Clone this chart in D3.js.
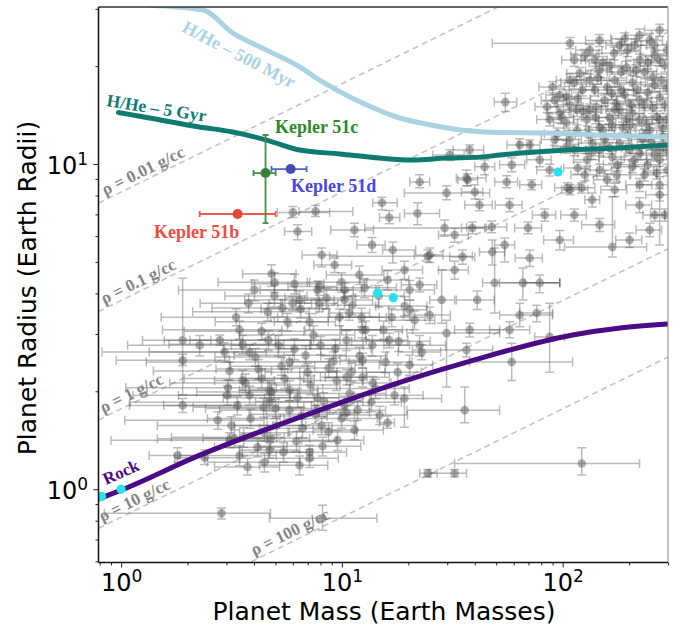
<!DOCTYPE html>
<html>
<head>
<meta charset="utf-8">
<script src="https://cdn.jsdelivr.net/npm/d3@7"></script>
<style>
  body { margin: 0; background: #fff; }
  svg { display: block; }
</style>
</head>
<body>
<svg id="chart" width="681" height="627"></svg>
<script>
// ---- Data -------------------------------------------------------------
// Iso-density reference lines (g/cc)
const densityLevels = [0.01, 0.1, 1, 10, 100];
const densityText = ["ρ = 0.01 g/cc", "ρ = 0.1 g/cc", "ρ = 1 g/cc", "ρ = 10 g/cc", "ρ = 100 g/cc"];
const EARTH_DENSITY = 5.51;

// H/He envelope models: [mass (M_earth), radius (R_earth)]
const hhe500Myr = [[1.34,30.8],[2.34,29.8],[3.2,25.3],[4.56,22.4],[6.44,19.9],[7.93,18.1],[9.77,16.7],
  [12.4,15.4],[17.7,13.95],[25.0,13.2],[35.3,12.7],[52,12.5],[87.5,12.46],[147.6,12.28],[300,12.1]];
const hhe5Gyr = [[0.973,14.4],[1.344,13.85],[2.26,13.0],[3.2,12.55],[4.56,11.85],[6.44,11.04],[9.77,10.74],
  [14.8,10.43],[20.9,10.29],[29.8,10.43],[42.2,10.5],[52,10.66],[104,11.04],[176,11.2],[300,11.44]];
const rockCurve = [[0.78,0.93],[1.0,0.993],[2.26,1.27],[4.24,1.5],[9.75,1.84],[18.3,2.13],[39.2,2.49],
  [111,2.98],[182,3.13],[300,3.22]];

// Kepler-51 planets: [value, low, high]
const keplerNames = ["Kepler 51b", "Kepler 51c", "Kepler 51d"];
const keplerMass = [[3.37,2.27,5.01],[4.51,3.98,5.01],[5.86,4.8,6.92]];
const keplerRadius = [[7.02,6.92,7.12],[9.38,6.58,12.28],[9.65,9.55,9.75]];

// Solar system reference planets: [mass, radius]
const solarSystem = [[0.815,0.95],[1.0,1.0],[14.5,4.01],[17.1,3.88],[95.2,9.45]];

// Known exoplanets with asymmetric bounds: [m, mLo, mHi, r, rLo, rHi]
const exoBounds = [
  [108,48,185,23.5,22.6,24.5],[55,49,62,15.5,14.5,16.5],[6.0,5.1,8.8,7.1,6.85,7.4],[7.6,6.4,11.2,7.15,6.9,7.45],
  [6.3,5.5,7.3,6.2,5.85,6.5],[8.1,6.6,9.5,5.25,4.82,5.52],[4.8,3.55,6.2,4.6,4.2,4.9],[7.9,5.7,9.5,4.2,4.05,4.35],
  [1.9,1.25,2.55,2.87,1.95,4.45],[2.8,1.57,9.8,2.87,2.77,2.98],[1.9,0.95,3.1,2.49,2.4,2.6],[1.9,1.09,3.4,1.81,1.72,1.9],
  [22.5,20.3,25,8.8,8.45,9.26],[36.7,33,45,9.05,8.57,9.59],[29.8,19.2,46.7,8.15,7.76,8.57],[40,34.8,43.5,8.2,7.8,8.63],
  [15.2,13.8,17.8,7.6,7.22,7.9],[22,19.2,27.7,7.05,6.5,7.6],[16.4,14.8,18.3,6.85,6.55,7.2],[29.2,12.7,45,6.36,6.0,6.73],
  [39,34.8,44.3,6.36,6.1,6.63],[17,15.3,21.6,5.44,4.96,5.76],[24.5,8.8,39,5.2,5.0,5.44],[48,42,54.6,5.36,4.89,5.84],
  [35.2,30.8,40,5.18,4.92,5.44],[22.5,18.6,26.9,4.25,4.04,4.46],[28.3,25,32.4,3.82,3.24,4.72],[72.4,63.9,80.3,8.63,8.33,8.94],
  [108,99,130,8.33,8.04,8.63],[136,126,147,7.76,7.38,8.15],[168,102,240,5.56,5.18,7.93],[275,217,300,8.63,5.64,9.13],
  [69.7,60.6,80.3,6.36,6.1,6.63],[47.7,36.7,55.8,6.4,6.15,6.68],[58.8,51.8,67.3,9.94,9.46,10.45],[44.3,40,49.2,9.8,9.26,10.3],
  [37.1,33.5,41.2,8.94,8.57,9.33],[55.8,49.2,62.5,8.8,8.45,9.2],[105,92,119,8.45,8.15,8.75],[122,110,140,8.45,8.15,8.75],
  [176,155,201,9.26,8.8,9.72],[54.6,49.2,60.6,5.64,5.0,5.92],[66,51.8,97,4.31,3.82,4.79],[78.7,67.3,97,4.31,4.02,4.56],
  [63.9,51.8,90,3.43,3.16,3.73],[76.3,63.9,90,3.48,3.27,3.68],[29.8,19.7,51.8,3.02,2.06,3.31],[37.9,32.4,51.8,3.09,2.94,3.24],
  [36.7,20.9,48.2,2.68,2.55,2.81],[36,19.7,51.8,1.75,1.6,2.06],[19.2,13.35,28.3,1.9,1.55,2.06],[16.1,14.8,17.3,1.6,1.54,1.68],
  [10.5,7.9,13.35,1.72,1.63,1.81],[32.4,25,36.7,1.12,1.09,1.15],[122,32.4,223,1.2,1.105,1.34],[58.8,37.9,111,2.46,2.16,2.81],
  [87.3,74.7,102,2.94,2.29,3.73],[57.5,46.7,70.9,3.09,2.92,3.27],[2.85,0.84,4.75,0.843,0.81,0.875],[8.17,4.7,14.4,0.814,0.748,0.893],
  [24.5,22.5,27,1.12,1.09,1.15],[1.8,1.34,2.39,1.27,1.21,1.34],[2.39,1.75,3.44,1.25,1.19,1.32],[3.74,2.65,5.22,1.17,1.105,1.245],
  [7.14,4.7,10.5,1.3,1.23,1.365],[4.7,3.44,6.43,1.32,1.245,1.395],[3.55,2.65,4.95,2.16,2.015,2.32],[4.7,3.44,6.43,2.015,1.88,2.16],
  [4.46,3.44,5.79,1.49,1.405,1.57],[49.2,43.4,97,4.31,3.48,5.52],[10.8,8.8,13.35,3.48,3.31,3.68],
  [3.82,0.82,6.0,2.64,2.5,2.78],[4.7,1.1,7.5,1.85,1.74,1.96],[3.1,0.9,4.6,1.415,1.34,1.49],[5.79,1.3,8.8,2.46,2.34,2.58]
];

// Known exoplanets with symmetric errors: [m, mErr, r, rErr]
const exoSymmetric = [
  // sub-Neptunes and super-Earths
  [3.32,1.8,3.38,0.2],[3.78,1.5,3.73,0.25],[4.33,2.4,3.06,0.18],[4.95,2.0,3.93,0.3],[5.67,3.0,3.27,0.2],[6.5,2.2,3.58,0.22],[7.44,4.0,2.98,0.2],[8.52,3.0,3.87,0.28],
  [9.76,5.0,3.38,0.2],[11.17,3.5,3.68,0.24],[12.8,6.0,3.09,0.2],[14.67,4.5,3.93,0.3],[16.8,7.0,3.38,0.22],[19.24,5.0,3.66,0.25],[3.55,1.9,2.79,0.18],[4.06,1.4,2.55,0.16],
  [4.65,2.6,2.87,0.2],[5.33,2.2,2.39,0.15],[6.1,3.2,2.7,0.2],[6.99,2.5,2.29,0.15],[8.01,4.5,2.77,0.18],[9.17,3.2,2.47,0.17],[10.5,5.5,2.87,0.2],[12.03,4.0,2.57,0.16],
  [13.74,6.5,2.77,0.2],[15.77,5.0,2.46,0.18],[18.08,7.0,2.85,0.2],[3.1,1.7,2.31,0.15],[3.66,2.0,2.12,0.14],[4.19,1.5,2.34,0.16],[4.8,2.6,1.99,0.13],[5.5,2.0,2.19,0.15],
  [6.3,3.4,1.91,0.13],[7.21,2.6,2.09,0.14],[8.26,4.2,1.86,0.12],[9.46,3.0,2.16,0.15],[10.83,5.0,1.97,0.13],[12.41,4.0,2.21,0.15],[14.2,6.0,2.04,0.14],[3.36,1.8,1.81,0.12],
  [3.86,1.4,1.65,0.11],[4.42,2.3,1.785,0.12],[5.06,1.8,1.57,0.1],[5.79,3.0,1.75,0.12],[6.63,2.4,1.54,0.1],[7.6,3.8,1.7,0.11],[8.7,3.0,1.5,0.1],[9.97,4.5,1.65,0.11],
  [3.59,1.9,1.445,0.1],[4.15,1.5,1.345,0.09],[4.75,2.4,1.435,0.1],[5.44,1.9,1.3,0.09],[6.23,3.2,1.405,0.1],[7.14,2.5,1.245,0.08],[8.18,4.0,1.355,0.09],[2.94,1.6,2.64,0.18],
  [3.03,1.9,1.945,0.13],[3.16,1.7,1.57,0.1],[4.61,2.5,3.51,0.22],[6.1,2.2,4.28,0.3],[7.76,3.5,4.1,0.26],[9.97,3.0,4.33,0.3],[12.67,5.0,4.16,0.28],[16.1,4.0,4.4,0.3],
  [20.27,6.0,4.1,0.28],[21.35,5.0,3.31,0.22],[22.5,7.0,2.77,0.2],[20.27,5.5,2.41,0.17],[11.77,4.0,1.75,0.12],[13.6,5.0,1.85,0.12],[5.16,2.0,2.77,0.2],[6.85,3.6,2.58,0.18],
  [8.7,2.8,2.36,0.16],[11.05,4.6,2.29,0.15],[4.33,2.4,2.19,0.15],[5.79,2.0,2.015,0.14],[7.76,3.3,1.91,0.13],[10.28,3.0,1.81,0.12],[5.01,2.6,1.77,0.12],[6.56,2.0,1.68,0.11],
  [3.44,1.9,3.09,0.2],[4.02,2.2,4.1,0.3],[5.38,2.8,3.61,0.22],[7.14,2.2,3.27,0.2],[9.36,4.2,2.71,0.18],[12.28,3.6,3.38,0.22],[15.45,5.5,3.09,0.2],[17.9,5.0,2.29,0.15],
  [3.82,2.0,1.945,0.13],[8.09,3.5,1.57,0.1],[9.56,3.0,1.415,0.1],[6.43,2.2,1.185,0.08],[4.46,2.0,1.21,0.08],[3.44,1.6,1.27,0.09],[11.41,4.0,1.52,0.1],[14.82,5.0,1.69,0.11],
  [17.33,6.0,1.945,0.13],[4.95,2.2,4.33,0.3],[6.43,2.8,3.82,0.25],[10.28,3.5,3.82,0.25],
  [3.05,2.0,2.05,0.12],[2.74,1.7,1.63,0.1],[3.26,1.8,1.43,0.09],[2.27,1.2,2.77,0.2],
  [11.4,2.5,6.27,0.3],[9.27,1.8,4.89,0.25],[12.0,3.5,4.56,0.3],[10.3,2.0,4.1,0.2],[13.7,2.0,5.64,0.3],[19.2,4.0,4.72,0.3],[32.4,5,4.72,0.3],[41,8,3.82,0.25],
  [20.3,4,3.56,0.25],[25,6,3.43,0.2],[32.4,5,6.05,0.3],[57.5,8,7.48,0.35],[82.9,10,6.97,0.3],[97,15,5.84,0.4],[70.9,10,5.14,0.3],[113,15,6.97,0.3],
  [223,30,7.48,0.4],[261,30,6.97,0.3],[147,25,6.5,0.3],[42,6,7.48,0.3],[30.8,5,10.66,0.4],[37.9,6,11.05,0.4],[70.9,8,11.45,0.4],
  [5.98,1.3,3.73,0.18],[7.9,1.7,3.73,0.22],[12.4,2.6,3.09,0.17],[16.4,3.5,2.87,0.15],[23,5,2.64,0.14],[12.4,2.6,2.49,0.13],[10.5,2.5,2.21,0.12],[13.8,2.9,2.12,0.1],[25,3.7,5.25,0.27],
  // gas giants
  [132.6,18,22.4,0.9],[171,25,21.9,1.0],[248,35,24.0,1.2],[275,40,25.8,1.1],[119.4,15,19.0,0.8],[147,20,19.4,0.9],[195,30,19.8,0.9],[90,12,17.25,0.7],
  [104,14,16.1,0.8],[123,16,16.9,0.7],[159,22,17.25,0.8],[207,30,17.8,0.9],[256,40,18.5,0.8],[85,10,15.0,0.6],[97,12,14.4,0.6],[116,15,14.7,0.7],
  [142,18,15.0,0.6],[175,25,15.4,0.7],[223,30,15.7,0.8],[275,35,16.0,0.7],[87.3,11,13.7,0.6],[104,13,13.4,0.5],[129,17,13.7,0.6],[163,22,13.9,0.6],
  [207,28,14.3,0.7],[267,35,13.95,0.6],[94.6,12,12.4,0.5],[116,15,12.7,0.5],[147,20,12.95,0.6],[187,25,12.95,0.5],[240,32,13.3,0.6],[295,40,13.7,0.6],
  [104,14,11.3,0.5],[136,18,11.6,0.5],[181,24,11.6,0.5],[230,30,11.9,0.5],[284,38,12.1,0.5],[129,17,10.3,0.45],[168,22,10.5,0.45],[223,30,10.8,0.5],
  [275,35,10.3,0.45],[147,20,9.59,0.4],[207,28,9.8,0.4],[267,35,9.4,0.4],[78.7,10,10.3,0.5],[63.9,8,11.45,0.5],
  [191,25,16.3,0.7],[235,32,15.2,0.6],[261,35,17.5,0.8],[201,27,13.2,0.5],[172,23,18.1,0.8],[223,30,20.9,0.9],[248,33,12.7,0.5],[155,21,15.7,0.6],
  [290,40,20.1,0.9],[181,24,14.7,0.6],[140,19,16.9,0.7],[275,36,11.05,0.45],[212,28,23.2,1.0],[261,35,21.6,0.9],[113,15,17.8,0.8],[147,20,11.05,0.45],
  [126,17,9.26,0.4],[172,23,8.33,0.4],[235,32,9.26,0.4],
  [113,14,20.9,0.9],[132.6,17,18.1,0.8],[163,22,20.1,0.9],[184,25,16.9,0.7],[215,28,19.4,0.8],[243,33,16.6,0.7],[280,38,18.1,0.8],[107.6,14,15.2,0.6],
  [131,17,12.3,0.5],[155,21,11.9,0.5],[197,26,12.3,0.5],[252,34,11.7,0.5],[290,40,15.2,0.6],[167,22,13.2,0.5],[141,19,13.9,0.6],[113,15,11.05,0.45],
  [223,30,13.7,0.6],[295,40,11.05,0.45],[177,24,9.94,0.4],[243,32,9.94,0.4],[97,13,16.3,0.7],[92,12,11.9,0.5],[201,27,11.05,0.45],[275,37,13.7,0.6],
  [140,19,20.9,0.9],[223,30,24.9,1.1],[181,24,23.2,1.0],
  [125.8,17,21.6,0.9],[152,20,20.5,0.9],[197,27,22.4,1.0],[243,33,20.5,0.9],[107.6,14,18.1,0.8],[144,19,18.4,0.8],[184,25,19.2,0.8],[235,32,19.2,0.9],
  [295,40,17.1,0.7],[92,12,15.7,0.7],[117,16,15.9,0.7],[167,22,16.5,0.7],[205,28,15.2,0.6],[256,34,14.9,0.6],[99,13,13.9,0.6],[124,17,14.5,0.6],
  [152,20,12.7,0.5],[195,26,13.8,0.6],[235,32,12.3,0.5],[285,38,12.9,0.5],[107.6,14,11.9,0.5],[135,18,10.8,0.45],[163,22,11.2,0.45],[212,28,10.3,0.45],
  [261,35,10.66,0.45],[298,40,9.59,0.4],[117,16,9.72,0.4],[159,21,8.94,0.4],[223,30,8.63,0.4],[275,37,8.04,0.35],[87.3,11,9.59,0.4],[132.6,18,14.7,0.6],
  [172,23,14.7,0.6],[218,29,16.9,0.7],[275,37,20.9,0.9],[147,20,24.0,1.0],[191,26,24.3,1.0],[261,35,23.2,1.0],[297,40,22.4,0.9],
  [248,33,6.27,0.3],[290,40,6.97,0.3],[201,27,5.84,0.3]
];

// Axis ticks
const xMajor = [1, 10, 100];
const xMinor = [0.8, 0.9, 2, 3, 4, 5, 6, 7, 8, 9, 20, 30, 40, 50, 60, 70, 80, 90, 200, 300];
const yMajor = [1, 10];
const yMinor = [0.6, 0.7, 0.8, 0.9, 2, 3, 4, 5, 6, 7, 8, 9, 20, 30];

// ---- Layout -------------------------------------------------------------
const plot = { left: 98.5, right: 668, top: 7, bottom: 562.5 };
const x = d3.scaleLog().domain([0.79, 300]).range([plot.left, plot.right]);
const y = d3.scaleLog().domain([0.595, 30.4]).range([plot.bottom, plot.top]);

const svg = d3.select("#chart");
svg.append("rect").attr("width", 681).attr("height", 627).attr("fill", "#fff");

svg.append("defs").append("clipPath").attr("id", "plotClip")
  .append("rect")
  .attr("x", plot.left).attr("y", plot.top)
  .attr("width", plot.right - plot.left).attr("height", plot.bottom - plot.top);

const body = svg.append("g").attr("clip-path", "url(#plotClip)");

// ---- Iso-density lines ---------------------------------------------------
const densityRadius = (m, rho) => Math.cbrt(m * EARTH_DENSITY / rho);
const xDomain = x.domain();
densityLevels.forEach(rho => {
  body.append("line")
    .attr("x1", x(xDomain[0])).attr("y1", y(densityRadius(xDomain[0], rho)))
    .attr("x2", x(xDomain[1])).attr("y2", y(densityRadius(xDomain[1], rho)))
    .attr("stroke", "#c4c4c4").attr("stroke-width", 1.6)
    .attr("stroke-dasharray", "6,4");
});

// ---- Exoplanet catalogue with error bars --------------------------------
const errG = body.append("g")
  .attr("stroke", "#555").attr("stroke-opacity", 0.4).attr("stroke-width", 1.5).attr("fill", "none");
const markG = body.append("g").attr("fill", "#505050").attr("fill-opacity", 0.45);

function errorBar(g, m, mLo, mHi, r, rLo, rHi, cap) {
  const cx = x(m), cy = y(r);
  const xl = x(mLo), xh = x(mHi), yl = y(rLo), yh = y(rHi);
  const p = d3.path();
  p.moveTo(xl, cy); p.lineTo(xh, cy);
  p.moveTo(cx, yl); p.lineTo(cx, yh);
  p.moveTo(xl, cy - cap); p.lineTo(xl, cy + cap);
  p.moveTo(xh, cy - cap); p.lineTo(xh, cy + cap);
  p.moveTo(cx - cap, yl); p.lineTo(cx + cap, yl);
  p.moveTo(cx - cap, yh); p.lineTo(cx + cap, yh);
  g.append("path").attr("d", p.toString());
}

exoBounds.forEach(([m, mLo, mHi, r, rLo, rHi]) => {
  errorBar(errG, m, mLo, mHi, r, rLo, rHi, 4.5);
  markG.append("circle").attr("cx", x(m)).attr("cy", y(r)).attr("r", 4.3);
});
exoSymmetric.forEach(([m, me, r, re]) => {
  errorBar(errG, m, Math.max(m - me, 0.05), m + me, r, r - re, r + re, 4.5);
  markG.append("circle").attr("cx", x(m)).attr("cy", y(r)).attr("r", 4.3);
});

// ---- Model curves ----------------------------------------------------------
const curve = d3.line().x(d => x(d[0])).y(d => y(d[1])).curve(d3.curveMonotoneX);
body.append("path").datum(hhe500Myr).attr("d", curve)
  .attr("fill", "none").attr("stroke", "#a9d3e3").attr("stroke-width", 5).attr("stroke-linecap", "round");
body.append("path").datum(hhe5Gyr).attr("d", curve)
  .attr("fill", "none").attr("stroke", "#0e7a70").attr("stroke-width", 5).attr("stroke-linecap", "round");
body.append("path").datum(rockCurve).attr("d", curve)
  .attr("fill", "none").attr("stroke", "#4b0a86").attr("stroke-width", 5).attr("stroke-linecap", "round");

// ---- Kepler-51 planets ----------------------------------------------------
const keplerMarker = ["#e8453c", "#3a7f3a", "#3f4db4"];
const keplerBar = ["#ec5a50", "#4a8a4a", "#5563c4"];
keplerNames.forEach((name, i) => {
  const g = body.append("g").attr("stroke", keplerBar[i]).attr("stroke-width", 1.8).attr("fill", "none");
  const [m, mLo, mHi] = keplerMass[i];
  const [r, rLo, rHi] = keplerRadius[i];
  errorBar(g, m, mLo, mHi, r, rLo, rHi, 3);
  body.append("circle").attr("cx", x(m)).attr("cy", y(r)).attr("r", 5).attr("fill", keplerMarker[i]);
});

// ---- Solar system --------------------------------------------------------
body.selectAll("circle.solar").data(solarSystem).join("circle")
  .attr("class", "solar")
  .attr("cx", d => x(d[0])).attr("cy", d => y(d[1])).attr("r", 4.6)
  .attr("fill", "#27e2ee");

// ---- Axes -----------------------------------------------------------------
function powerLabels(sel, supSize) {
  sel.selectAll(".tick text").each(function (d) {
    const t = d3.select(this);
    const e = Math.round(Math.log10(d));
    t.text(null);
    t.append("tspan").text("10");
    t.append("tspan").attr("dy", "-0.5em").style("font-size", supSize + "px").text(e);
  });
}
const tickFont = "'DejaVu Sans', sans-serif";

// x axis: major ticks with power-of-ten labels, then unlabeled minor ticks
const xAxisG = svg.append("g").attr("transform", `translate(0,${plot.bottom})`)
  .call(d3.axisBottom(x).tickValues(xMajor).tickSize(5).tickSizeOuter(0).tickFormat(() => "10"));
xAxisG.select(".domain").remove();
xAxisG.selectAll("text").attr("y", 28).attr("dy", null)
  .style("font-family", tickFont).style("font-size", "24px").attr("fill", "#000");
powerLabels(xAxisG, 17);
const xMinorG = svg.append("g").attr("transform", `translate(0,${plot.bottom})`)
  .call(d3.axisBottom(x).tickValues(xMinor).tickSize(3).tickSizeOuter(0));
xMinorG.select(".domain").remove();
xMinorG.selectAll("text").remove();

// y axis
const yAxisG = svg.append("g").attr("transform", `translate(${plot.left},0)`)
  .call(d3.axisLeft(y).tickValues(yMajor).tickSize(5).tickSizeOuter(0).tickFormat(() => "10"));
yAxisG.select(".domain").remove();
yAxisG.selectAll("text").attr("x", -10.5).attr("y", 9).attr("dy", null)
  .style("font-family", tickFont).style("font-size", "24px").attr("fill", "#000");
powerLabels(yAxisG, 17);
const yMinorG = svg.append("g").attr("transform", `translate(${plot.left},0)`)
  .call(d3.axisLeft(y).tickValues(yMinor).tickSize(3).tickSizeOuter(0));
yMinorG.select(".domain").remove();
yMinorG.selectAll("text").remove();

svg.selectAll(".tick line").attr("stroke", "#222");

// Frame
svg.append("line").attr("x1", plot.left).attr("x2", plot.right).attr("y1", plot.top).attr("y2", plot.top)
  .attr("stroke", "#333").attr("stroke-width", 1.5);
svg.append("line").attr("x1", plot.right).attr("x2", plot.right).attr("y1", plot.top).attr("y2", plot.bottom)
  .attr("stroke", "#9a9a9a").attr("stroke-width", 1.2);
svg.append("line").attr("x1", plot.left).attr("x2", plot.left).attr("y1", plot.top).attr("y2", plot.bottom)
  .attr("stroke", "#111").attr("stroke-width", 1.5);
svg.append("line").attr("x1", plot.left).attr("x2", plot.right).attr("y1", plot.bottom).attr("y2", plot.bottom)
  .attr("stroke", "#111").attr("stroke-width", 1.5);

// Axis titles
svg.append("text").attr("x", 384).attr("y", 620).attr("text-anchor", "middle")
  .style("font-family", tickFont).style("font-size", "25px")
  .text("Planet Mass (Earth Masses)");
svg.append("text").attr("transform", "translate(36,288) rotate(-90)").attr("text-anchor", "middle")
  .style("font-family", tickFont).style("font-size", "25px")
  .text("Planet Radius (Earth Radii)");

// ---- Annotations ---------------------------------------------------------
const serif = "'Liberation Serif', 'Times New Roman', serif";
const labelG = svg.append("g").attr("clip-path", "url(#plotClip)");

// density labels, laid along their lines
const densityLabelStart = [107, 106, 105, 104, 256];
densityLevels.forEach((rho, i) => {
  const m0 = x.invert(densityLabelStart[i]);
  const m1 = m0 * 10;
  const px0 = x(m0), py0 = y(densityRadius(m0, rho));
  const ang = Math.atan2(y(densityRadius(m1, rho)) - py0, x(m1) - px0) * 180 / Math.PI;
  labelG.append("text")
    .attr("transform", `translate(${px0},${py0}) rotate(${ang})`)
    .attr("y", -4)
    .style("font-family", serif).style("font-weight", "bold").style("font-size", "17px")
    .attr("fill", "#858585")
    .text(densityText[i]);
});

function curveLabel(txt, px, py, ang, color, size) {
  labelG.append("text")
    .attr("transform", `translate(${px},${py}) rotate(${ang})`)
    .style("font-family", serif).style("font-weight", "bold").style("font-size", size + "px")
    .attr("fill", color).text(txt);
}
curveLabel("H/He – 500 Myr", 181, 31, 27.5, "#a9d3e3", 18);
curveLabel("H/He – 5 Gyr", 106, 106, 9, "#0e7a70", 17.5);
curveLabel("Rock", 106, 485, -24, "#4b0a86", 17);

const keplerLabelPos = [[154, 238], [275, 133], [291, 192]];
const keplerLabelColor = ["#f04a44", "#2b8a2b", "#4848e0"];
keplerNames.forEach((name, i) => {
  labelG.append("text")
    .attr("x", keplerLabelPos[i][0]).attr("y", keplerLabelPos[i][1])
    .style("font-family", serif).style("font-weight", "bold").style("font-size", "18px")
    .attr("fill", keplerLabelColor[i]).text(name);
});
</script>
</body>
</html>
